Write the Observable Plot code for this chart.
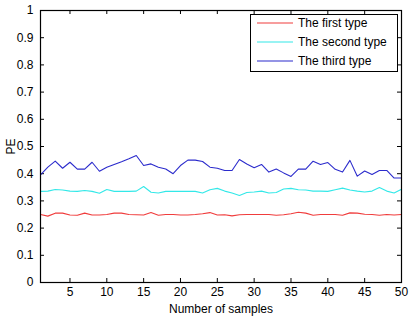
<!DOCTYPE html>
<html>
<head>
<meta charset="utf-8">
<script src="https://cdn.jsdelivr.net/npm/d3@7"></script>
<script src="https://cdn.jsdelivr.net/npm/@observablehq/plot@0.6"></script>
<style>
  html, body { margin: 0; padding: 0; background: #fff; }
  #chart svg { display: block; }
</style>
</head>
<body>
<div id="chart"></div>
<script>
const samples = d3.range(1, 51);
const firstType = [0.250,0.244,0.255,0.255,0.248,0.247,0.255,0.248,0.248,0.250,
                   0.255,0.255,0.250,0.249,0.248,0.257,0.247,0.250,0.250,0.248,
                   0.248,0.250,0.253,0.257,0.248,0.249,0.245,0.249,0.250,0.250,
                   0.250,0.250,0.247,0.249,0.253,0.258,0.255,0.247,0.250,0.250,
                   0.250,0.247,0.256,0.255,0.251,0.250,0.247,0.250,0.248,0.250];
const secondType = [0.335,0.336,0.342,0.340,0.336,0.335,0.338,0.335,0.328,0.342,
                    0.335,0.335,0.335,0.336,0.353,0.332,0.329,0.335,0.335,0.335,
                    0.335,0.335,0.329,0.341,0.346,0.336,0.329,0.320,0.331,0.333,
                    0.336,0.329,0.331,0.344,0.346,0.341,0.340,0.336,0.336,0.335,
                    0.341,0.347,0.340,0.336,0.333,0.336,0.349,0.336,0.329,0.343];
const thirdType = [0.396,0.424,0.446,0.420,0.442,0.417,0.417,0.442,0.409,0.424,
                   0.434,0.444,0.455,0.467,0.430,0.436,0.424,0.417,0.400,0.430,
                   0.450,0.450,0.445,0.424,0.420,0.412,0.412,0.452,0.436,0.422,
                   0.434,0.406,0.417,0.403,0.390,0.417,0.417,0.446,0.434,0.441,
                   0.416,0.406,0.449,0.391,0.410,0.397,0.412,0.412,0.384,0.384];
const seriesNames = ["The first type", "The second type", "The third type"];
const seriesColors = ["#f03c3c", "#33e8e8", "#2b2bcc"];
const xTicks = [5,10,15,20,25,30,35,40,45,50];
const yTicks = [0,0.1,0.2,0.3,0.4,0.5,0.6,0.7,0.8,0.9,1];

const seriesValues = [firstType, secondType, thirdType];
const data = seriesValues.flatMap((vals, i) =>
  vals.map((v, j) => ({x: samples[j], y: v, s: seriesNames[i]})));

const W = 409, H = 316, mL = 40, mR = 8, mT = 10, mB = 34;
const innerH = H - mT - mB, innerW = W - mL - mR;
const tk = 4;
const font = "Liberation Sans, Arial, Helvetica, sans-serif";

const chart = Plot.plot({
  width: W, height: H,
  marginLeft: mL, marginRight: mR, marginTop: mT, marginBottom: mB,
  style: {fontFamily: font, fontSize: "12px", color: "#000", background: "#fff"},
  x: {domain: [1, 50], ticks: xTicks},
  y: {domain: [0, 1], ticks: yTicks},
  color: {domain: seriesNames, range: seriesColors},
  marks: [
    Plot.axisX(xTicks, {tickSize: 0, tickPadding: 5, label: "Number of samples", labelAnchor: "center", labelArrow: "none", labelOffset: 30, fontSize: 12}),
    Plot.axisY(yTicks, {tickSize: 0, tickPadding: 7, tickFormat: d => String(d), label: "PE", labelAnchor: "center", labelArrow: "none", labelOffset: 34, fontSize: 12}),
    Plot.tickX(xTicks, {x: d => d, insetTop: innerH - tk, stroke: "#000", strokeWidth: 1}),
    Plot.tickX(xTicks, {x: d => d, insetBottom: innerH - tk, stroke: "#000", strokeWidth: 1}),
    Plot.tickY(yTicks, {y: d => d, insetRight: innerW - tk, stroke: "#000", strokeWidth: 1}),
    Plot.tickY(yTicks, {y: d => d, insetLeft: innerW - tk, stroke: "#000", strokeWidth: 1}),
    Plot.line(data, {x: "x", y: "y", z: "s", stroke: "s", strokeWidth: 1.1}),
    Plot.frame({stroke: "#000", strokeWidth: 1.2})
  ]
});

// legend box (MATLAB style), drawn inside the svg
const svg = d3.select(chart);
const lg = svg.append("g").attr("font-family", font).attr("font-size", 12).attr("text-anchor", "start");
lg.append("rect").attr("x", 250.5).attr("y", 14.5).attr("width", 147).attr("height", 57)
  .attr("fill", "#fff").attr("stroke", "#000").attr("stroke-width", 1);
seriesNames.forEach((name, i) => {
  const yy = 23 + i * 19;
  lg.append("line").attr("x1", 257).attr("x2", 293).attr("y1", yy).attr("y2", yy)
    .attr("stroke", seriesColors[i]).attr("stroke-width", 1.1);
  lg.append("text").attr("x", 298).attr("y", yy).attr("dy", "0.35em")
    .attr("text-anchor", "start").attr("fill", "#000").text(name);
});

document.getElementById("chart").appendChild(chart);
</script>
</body>
</html>
